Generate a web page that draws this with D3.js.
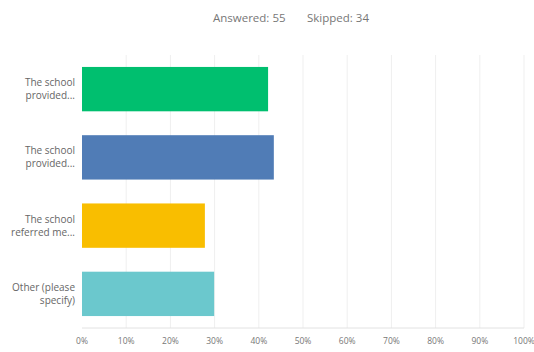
<!DOCTYPE html>
<html><head><meta charset="utf-8">
<script src="https://cdn.jsdelivr.net/npm/d3@7"></script>
<style>body{margin:0;background:#fff;} text{font-family:"Open Sans",Arial,sans-serif;}</style>
</head><body><svg id="c" width="534" height="352"></svg>
<script>
const categories = [["The school","provided..."],["The school","provided..."],["The school","referred me..."],["Other (please","specify)"]];
const values = [42.1, 43.4, 27.8, 29.9];
const colors = ["#00BF6F","#507CB6","#F9BE00","#6BC8CD"];
const ticks = [0,10,20,30,40,50,60,70,80,90,100];
const answered = "Answered: 55";
const skipped = "Skipped: 34";

const svg = d3.select("#c");
const x = d3.scaleLinear().domain([0,100]).range([82,524]);
const y = d3.scaleBand().domain(d3.range(values.length)).range([55,328]).paddingInner(0.35).paddingOuter(0.175);

svg.append("text").attr("x",213).attr("y",22).attr("text-anchor","start")
  .attr("font-size",11.5).attr("fill","#777").text(answered);
svg.append("text").attr("x",307).attr("y",22).attr("text-anchor","start")
  .attr("font-size",11.5).attr("fill","#777").text(skipped);

svg.append("g").selectAll("line").data(ticks.slice(1)).join("line")
  .attr("x1",d=>x(d)).attr("x2",d=>x(d)).attr("y1",55).attr("y2",328)
  .attr("stroke","#efefef").attr("stroke-width",1);
svg.append("line").attr("x1",x(0)).attr("x2",x(100)).attr("y1",328).attr("y2",328).attr("stroke","#e2e2e2");

svg.append("g").selectAll("rect").data(values).join("rect")
  .attr("x",x(0)).attr("y",(d,i)=>y(i)).attr("width",d=>x(d)-x(0)).attr("height",y.bandwidth())
  .attr("fill",(d,i)=>colors[i]);

const lab = svg.append("g").selectAll("text").data(categories).join("text")
  .attr("text-anchor","end").attr("font-size",10).attr("fill","#666")
  .attr("transform",(d,i)=>`translate(75,${y(i)+y.bandwidth()/2})`);
lab.each(function(d){
  const t=d3.select(this);
  d.forEach((s,k)=>t.append("tspan").attr("x",0).attr("y",(k-(d.length-1)/2)*13+3.5).text(s));
});

svg.append("g").attr("transform","translate(0,344)").selectAll("text").data(ticks).join("text")
  .attr("x",d=>x(d)).attr("text-anchor","middle").attr("font-size",8.5).attr("fill","#777")
  .text(d=>d+"%");
</script></body></html>
